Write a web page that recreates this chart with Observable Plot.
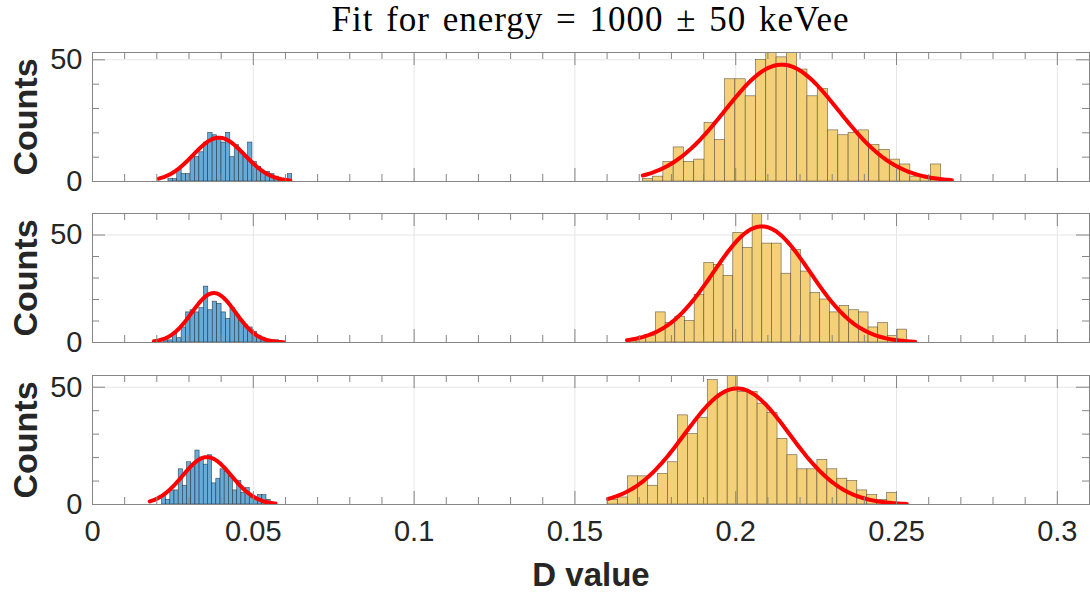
<!DOCTYPE html>
<html>
<head>
<meta charset="utf-8">
<script src="https://cdn.jsdelivr.net/npm/d3@7"></script>
<script src="https://cdn.jsdelivr.net/npm/@observablehq/plot@0.6"></script>
<style>
  body { margin: 0; background: #fff; }
  #wrap { position: relative; width: 1090px; height: 594px; overflow: hidden; background: #fff; }
  .panel { position: absolute; left: 0; }
  .title { position: absolute; top: 0px; left: 92px; width: 997px; text-align: center; line-height: 40px;
           font-family: "Liberation Serif", "DejaVu Serif", serif; font-size: 35px; letter-spacing: 1px; word-spacing: 3px;
           color: #000; white-space: nowrap; }
  .ylab { position: absolute; font-family: "Liberation Sans", Arial, sans-serif; font-weight: bold;
          font-size: 34px; color: #262626; white-space: nowrap; transform: translate(-50%, -50%) rotate(-90deg); line-height: 1; }
  .xlab { position: absolute; left: 591px; top: 574px; font-family: "Liberation Sans", Arial, sans-serif; font-weight: bold;
          font-size: 33px; color: #262626; white-space: nowrap; transform: translate(-50%, -50%); line-height: 1; }
</style>
</head>
<body>
<div id="wrap"></div>
<script>
// ---------------- data ----------------
const titleText = "Fit for energy = 1000 \u00b1 50 keVee";
const xLabel = "D value";
const yLabel = "Counts";
const xTicks = [0, 0.05, 0.1, 0.15, 0.2, 0.25, 0.3];
const xTickLabels = ["0", "0.05", "0.1", "0.15", "0.2", "0.25", "0.3"];
const xMinor = [0.01, 0.02, 0.03, 0.04, 0.06, 0.07, 0.08, 0.09, 0.11, 0.12, 0.13, 0.14, 0.16, 0.17, 0.18, 0.19,
                0.21, 0.22, 0.23, 0.24, 0.26, 0.27, 0.28, 0.29, 0.31];
const xDomain = [0, 0.31];
const yTicks = [0, 50];
const yMinor = [10, 20, 30, 40];
const yMax = [53, 60, 55];

// blue histograms (first population): bin start, bin width, counts
const blueStart = [0.0236, 0.0222, 0.0216];
const blueWidth = [0.001375, 0.00138, 0.0013];
const blueCounts1 = [1, 1, 5, 3, 3, 10, 10, 12, 16, 20, 19, 18, 16, 20, 10, 15, 12, 10, 16, 8, 6, 4, 4, 3, 2, 1, 0, 3];
const blueCounts2 = [1, 1, 4, 2, 7, 14, 15, 14, 16, 26, 15, 19, 18, 14, 11, 16, 13, 10, 8, 7, 5, 3, 2, 1, 1, 1];
const blueCounts3 = [4, 2, 6, 6, 15, 8, 18, 16, 23, 20, 17, 21, 9, 11, 15, 14, 12, 6, 10, 5, 7, 3, 3, 4, 4, 2];

// yellow histograms (second population)
const yellowStart = [0.1711, 0.1662, 0.1603];
const yellowWidth = [0.0032, 0.003004, 0.0031];
const yellowCounts1 = [1, 2, 8, 14, 8, 9, 24, 17, 42, 42, 35, 50, 53, 51, 53, 46, 35, 38, 21, 19, 20, 21, 15, 13, 9, 7, 2, 2, 7];
const yellowCounts2 = [1, 2, 3, 14, 9, 12, 10, 22, 37, 36, 31, 51, 44, 60, 46, 46, 32, 43, 33, 23, 20, 14, 17, 15, 14, 7, 9, 3, 6];
const yellowCounts3 = [2, 3, 12, 12, 8, 13, 18, 38, 30, 37, 53, 47, 55, 48, 48, 43, 39, 28, 21, 15, 15, 19, 15, 11, 10, 6, 4, 2, 5];

// Gaussian fits: mean, sigma, peak height, drawn range
const blueFitMu = [0.0393, 0.0377, 0.0356];
const blueFitSigma = [0.0080, 0.0068, 0.0076];
const blueFitPeak = [18, 23, 20.2];
const blueFitFrom = [0.0206, 0.0191, 0.0178];
const blueFitTo = [0.0615, 0.0595, 0.0569];

const yellowFitMu = [0.2143, 0.2081, 0.2004];
const yellowFitSigma = [0.0177, 0.0150, 0.0163];
const yellowFitPeak = [48, 54, 49.5];
const yellowFitFrom = [0.1711, 0.1662, 0.1603];
const yellowFitTo = [0.2672, 0.2558, 0.2532];

const blueCounts = [blueCounts1, blueCounts2, blueCounts3];
const yellowCounts = [yellowCounts1, yellowCounts2, yellowCounts3];

// ---------------- drawing ----------------
const wrap = document.getElementById("wrap");
const boxTop = [52, 213, 375];
const boxH = 129;
const plotW = 1090, mL = 92, mR = 1;
const pxPerX = (plotW - mL - mR) / (xDomain[1] - xDomain[0]);

function bins(start, w, counts) {
  return counts.map((c, k) => ({x1: start + k * w, x2: start + (k + 1) * w, y: c}));
}
function gauss(mu, sigma, peak, from, to) {
  const n = 160, pts = [];
  for (let k = 0; k <= n; k++) {
    const x = from + (to - from) * k / n;
    pts.push({x, y: peak * Math.exp(-((x - mu) ** 2) / (2 * sigma * sigma))});
  }
  return pts;
}

const axisColor = "#858585";
const textColor = "#262626";

for (let i = 0; i < 3; i++) {
  const last = i === 2;
  const mt = 20, mb = last ? 60 : 20;
  const ymax = yMax[i];
  const pxPerY = boxH / ymax;
  const majL = 13, minL = 7;

  const marks = [
    Plot.gridX({ticks: xTicks, stroke: "#e6e6e6", strokeOpacity: 1}),
    Plot.gridY({ticks: [50], stroke: "#e6e6e6", strokeOpacity: 1}),
    Plot.rect(bins(blueStart[i], blueWidth[i], blueCounts[i]),
      {x1: "x1", x2: "x2", y1: 0, y2: "y", fill: "#66aad7", stroke: "#1e2b36", strokeWidth: 0.6, strokeOpacity: 0.85, clip: true}),
    Plot.rect(bins(yellowStart[i], yellowWidth[i], yellowCounts[i]),
      {x1: "x1", x2: "x2", y1: 0, y2: "y", fill: "#f4d079", stroke: "#4a4230", strokeWidth: 0.6, strokeOpacity: 0.85, clip: true}),
    Plot.line(gauss(blueFitMu[i], blueFitSigma[i], blueFitPeak[i], blueFitFrom[i], blueFitTo[i]),
      {x: "x", y: "y", stroke: "#ff0000", strokeWidth: 4, clip: true}),
    Plot.line(gauss(yellowFitMu[i], yellowFitSigma[i], yellowFitPeak[i], yellowFitFrom[i], yellowFitTo[i]),
      {x: "x", y: "y", stroke: "#ff0000", strokeWidth: 4, clip: true}),
    // inward tick marks (bottom / top)
    Plot.ruleX(xTicks, {x: d => d, y1: 0, y2: majL / pxPerY, stroke: axisColor}),
    Plot.ruleX(xMinor, {x: d => d, y1: 0, y2: minL / pxPerY, stroke: axisColor}),
    Plot.ruleX(xTicks, {x: d => d, y1: ymax, y2: ymax - majL / pxPerY, stroke: axisColor}),
    Plot.ruleX(xMinor, {x: d => d, y1: ymax, y2: ymax - minL / pxPerY, stroke: axisColor}),
    // inward tick marks (left / right)
    Plot.ruleY(yTicks, {y: d => d, x1: xDomain[0], x2: xDomain[0] + majL / pxPerX, stroke: axisColor}),
    Plot.ruleY(yMinor, {y: d => d, x1: xDomain[0], x2: xDomain[0] + minL / pxPerX, stroke: axisColor}),
    Plot.ruleY(yTicks, {y: d => d, x1: xDomain[1], x2: xDomain[1] - majL / pxPerX, stroke: axisColor}),
    Plot.ruleY(yMinor, {y: d => d, x1: xDomain[1], x2: xDomain[1] - minL / pxPerX, stroke: axisColor}),
    Plot.frame({stroke: axisColor}),
    Plot.axisY({ticks: yTicks, tickSize: 0, tickPadding: 10, fontSize: 29, label: null, tickFormat: d => String(d)})
  ];
  if (last) {
    marks.push(Plot.axisX({ticks: xTicks, tickSize: 0, tickPadding: 16, fontSize: 29, label: null,
      tickFormat: d => xTickLabels[xTicks.indexOf(d)]}));
  }

  const chart = Plot.plot({
    width: plotW,
    height: boxH + mt + mb,
    marginLeft: mL, marginRight: mR, marginTop: mt, marginBottom: mb,
    style: {background: "transparent", overflow: "visible", color: textColor, fontFamily: "'Liberation Sans', Arial, sans-serif"},
    x: {domain: xDomain, axis: null},
    y: {domain: [0, ymax], axis: null},
    marks
  });
  chart.classList.add("panel");
  chart.style.top = (boxTop[i] - mt) + "px";
  wrap.appendChild(chart);

  const yl = document.createElement("div");
  yl.className = "ylab";
  yl.textContent = yLabel;
  yl.style.left = "25px";
  yl.style.top = (boxTop[i] + boxH / 2) + "px";
  wrap.appendChild(yl);
}

const t = document.createElement("div");
t.className = "title";
t.textContent = titleText;
wrap.appendChild(t);

const xl = document.createElement("div");
xl.className = "xlab";
xl.textContent = xLabel;
wrap.appendChild(xl);
</script>
</body>
</html>
